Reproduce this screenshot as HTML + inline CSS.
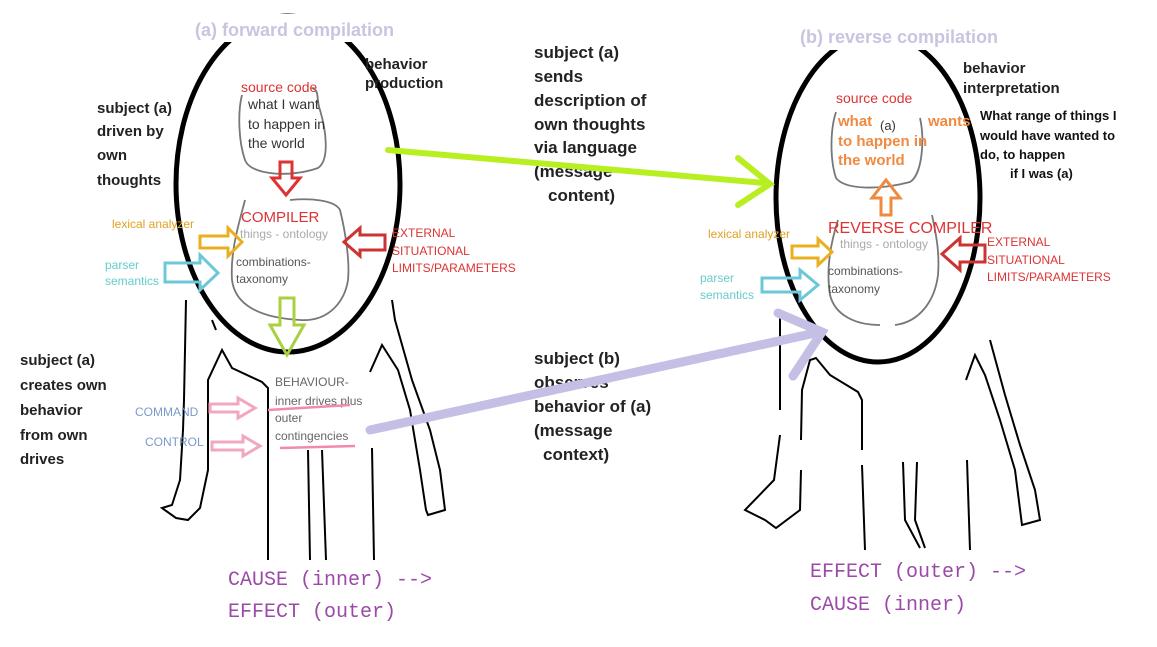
<!DOCTYPE html>
<html><head><meta charset="utf-8"><style>
html,body{margin:0;padding:0;background:#fff;}
svg{display:block;}
text{font-family:"Liberation Sans",Arial,sans-serif;}
text.mono{font-family:"Liberation Mono","DejaVu Sans Mono",monospace;}
</style></head><body>
<svg width="1157" height="647" viewBox="0 0 1157 647" xmlns="http://www.w3.org/2000/svg">
<!-- LEFT FIGURE body -->
<g fill="none" stroke="#000" stroke-width="2">
<path d="M186,300 L184,400 L183,430 L180,480 L172,505 L162,508 L176,518 L188,520 L200,508 L208,470 L208,380 L222,350 L232,368 L262,382 L268,388 L268,560"/>
<path d="M308,450 L310,560 M322,450 L326,560 M372,448 L374,560"/>
<path d="M370,372 L382,345 L398,370 L410,410 L420,470 L426,510 L428,515 L445,510 L440,470 L430,430 L412,380 L395,320 L392,300"/>
<path d="M216,330 L212,320" />
</g>
<!-- RIGHT FIGURE body -->
<g fill="none" stroke="#000" stroke-width="2">
<path d="M780,310 L780,410 M780,435 L774,480 L745,510 L765,520 L776,528 L800,510 L801,470 M801,440 L802,390 L810,360 L816,358 L830,375 L858,392 L862,400 L862,450 M862,465 L865,550"/>
<path d="M903,462 L905,520 L920,548 M917,462 L915,520 L925,548 M967,460 L970,550"/>
<path d="M966,380 L975,355 L985,375 L1000,420 L1015,470 L1022,525 L1040,520 L1035,490 L1020,445 L1005,395 L990,340"/>
</g>
<!-- Ellipses -->
<ellipse cx="288" cy="184" rx="112" ry="168" fill="none" stroke="#000" stroke-width="5"/>
<ellipse cx="878" cy="198" rx="102" ry="164" fill="none" stroke="#000" stroke-width="5"/>
<!-- white masks -->
<g fill="#fff">
<rect x="190" y="14" width="235" height="28"/>
<rect x="795" y="22" width="230" height="28"/>
<rect x="238" y="78" width="90" height="18"/>
<rect x="832" y="88" width="98" height="18"/>
</g>
<!-- gray scribbles left -->
<g fill="none" stroke="#777" stroke-width="1.8">
<path d="M242,95 C238,110 238,140 245,160 C250,175 290,178 318,168 C330,160 326,130 320,110 C316,100 320,90 312,88"/>
<path d="M245,200 C240,220 230,250 232,280 C235,305 260,318 300,320 C330,322 345,300 348,280 C350,260 345,230 340,210 C335,200 310,198 290,200"/>
</g>
<!-- gray scribbles right -->
<g fill="none" stroke="#777" stroke-width="1.8">
<path d="M836,112 C830,130 830,160 836,178 C845,190 880,190 910,182 C922,175 925,140 920,118"/>
<path d="M838,220 C830,245 826,270 830,295 C835,315 855,325 880,325 M895,325 C920,322 935,300 938,275 C940,250 935,230 932,215"/>
</g>
<!-- titles -->
<text x="195" y="36" font-size="18" font-weight="bold" fill="#c9c4e0">(a)  forward compilation</text>
<text x="800" y="43" font-size="18" font-weight="bold" fill="#c9c4e0">(b) reverse compilation</text>
<!-- left labels -->
<g font-size="15" font-weight="bold" fill="#222">
<text x="365" y="69">behavior</text><text x="365" y="88">production</text>
<text x="97" y="113">subject (a)</text><text x="97" y="136">driven by</text><text x="97" y="160">own</text><text x="97" y="185">thoughts</text>
<text x="20" y="365">subject (a)</text><text x="20" y="390">creates own</text><text x="20" y="415">behavior</text><text x="20" y="440">from own</text><text x="20" y="464">drives</text>
</g>
<text x="241" y="92" font-size="14" fill="#d33">source code</text>
<g font-size="14" fill="#333"><text x="248" y="109">what I want</text><text x="248" y="129">to happen in</text><text x="248" y="148">the world</text></g>
<text x="241" y="222" font-size="15" fill="#d33">COMPILER</text>
<text x="240" y="238" font-size="12" fill="#aaa">things - ontology</text>
<text x="236" y="266" font-size="12" fill="#555">combinations-</text><text x="236" y="283" font-size="12" fill="#555">taxonomy</text>
<text x="112" y="228" font-size="12" fill="#e0a020">lexical analyzer</text>
<text x="105" y="269" font-size="12" fill="#6cc">parser</text><text x="105" y="285" font-size="12" fill="#6cc">semantics</text>
<g font-size="12" fill="#d33"><text x="392" y="237">EXTERNAL</text><text x="392" y="255">SITUATIONAL</text><text x="392" y="272">LIMITS/PARAMETERS</text></g>
<g font-size="12" fill="#666"><text x="275" y="386">BEHAVIOUR-</text><text x="275" y="405">inner drives plus</text><text x="275" y="422">outer</text><text x="275" y="440">contingencies</text></g>
<text x="135" y="416" font-size="12" fill="#7a9ac8">COMMAND</text>
<text x="145" y="446" font-size="12" fill="#7a9ac8">CONTROL</text>
<text class="mono" x="228" y="585" font-size="20" fill="#9b4aa8">CAUSE (inner) --&gt;</text>
<text class="mono" x="228" y="617" font-size="20" fill="#9b4aa8">EFFECT (outer)</text>
<!-- middle -->
<g font-size="17" font-weight="bold" fill="#222">
<text x="534" y="58">subject (a)</text><text x="534" y="82">sends</text><text x="534" y="106">description of</text><text x="534" y="130">own thoughts</text><text x="534" y="153">via language</text><text x="534" y="177">(message</text><text x="548" y="201">content)</text>
<text x="534" y="364">subject (b)</text><text x="534" y="388">observes</text><text x="534" y="412">behavior of (a)</text><text x="534" y="436">(message</text><text x="543" y="460">context)</text>
</g>
<!-- right labels -->
<g font-size="15" font-weight="bold" fill="#222"><text x="963" y="73">behavior</text><text x="963" y="93">interpretation</text></g>
<g font-size="13" font-weight="bold" fill="#111"><text x="980" y="120">What range of things I</text><text x="980" y="140">would have wanted to</text><text x="980" y="159">do, to happen</text><text x="1010" y="178">if I was (a)</text></g>
<text x="836" y="103" font-size="14" fill="#d33">source code</text>
<g font-size="15" font-weight="bold" fill="#f08a40"><text x="838" y="126">what</text><text x="928" y="126">wants</text><text x="838" y="146">to happen in</text><text x="838" y="165">the world</text></g>
<text x="880" y="130" font-size="13" fill="#333">(a)</text>
<text x="828" y="233" font-size="16" fill="#d33">REVERSE COMPILER</text>
<text x="840" y="248" font-size="12" fill="#aaa">things - ontology</text>
<text x="828" y="275" font-size="12" fill="#555">combinations-</text><text x="828" y="293" font-size="12" fill="#555">taxonomy</text>
<text x="708" y="238" font-size="12" fill="#e0a020">lexical analyzer</text>
<text x="700" y="282" font-size="12" fill="#6cc">parser</text><text x="700" y="299" font-size="12" fill="#6cc">semantics</text>
<g font-size="12" fill="#d33"><text x="987" y="246">EXTERNAL</text><text x="987" y="264">SITUATIONAL</text><text x="987" y="281">LIMITS/PARAMETERS</text></g>
<text class="mono" x="810" y="577" font-size="20" fill="#9b4aa8">EFFECT (outer) --&gt;</text>
<text class="mono" x="810" y="610" font-size="20" fill="#9b4aa8">CAUSE (inner)</text>
<!-- hollow arrows -->
<g fill="none" stroke-width="3">
<path d="M280,162 L292,162 L292,178 L300,178 L286,195 L272,178 L280,178 Z" stroke="#d33"/>
<path d="M200,236 L228,236 L228,228 L242,242 L228,256 L228,248 L200,248 Z" stroke="#e8b020"/>
<path d="M165,263 L200,263 L200,255 L218,273 L200,290 L200,282 L165,282 Z" stroke="#6cc8d8"/>
<path d="M385,235 L360,235 L360,228 L344,242 L360,256 L360,250 L385,250 Z" stroke="#c33"/>
<path d="M280,298 L294,298 L294,325 L304,325 L287,355 L270,325 L280,325 Z" stroke="#a8d040"/>
<path d="M210,404 L238,404 L238,398 L255,408 L238,418 L238,412 L210,412 Z" stroke="#f0a8c0"/>
<path d="M212,442 L243,442 L243,436 L260,446 L243,456 L243,450 L212,450 Z" stroke="#f0a8c0"/>
<path d="M881,215 L891,215 L891,198 L900,198 L886,180 L872,198 L881,198 Z" stroke="#f08a40"/>
<path d="M792,246 L818,246 L818,239 L832,252 L818,265 L818,258 L792,258 Z" stroke="#e8b020"/>
<path d="M762,278 L800,278 L800,270 L818,285 L800,300 L800,292 L762,292 Z" stroke="#6cc8d8"/>
<path d="M985,245 L960,245 L960,238 L942,254 L960,270 L960,262 L985,262 Z" stroke="#c33"/>
</g>
<!-- pink underlines -->
<g stroke="#f08ab0" stroke-width="2.5" fill="none"><path d="M268,410 L350,405"/><path d="M280,448 L355,446"/></g>
<!-- green arrow -->
<g stroke="#b8ef20" stroke-width="6" fill="none" stroke-linecap="round"><path d="M388,150 L765,183"/><path d="M738,158 L770,184 L738,205"/></g>
<!-- purple arrow -->
<g stroke="#c4bfe4" stroke-width="9" fill="none" stroke-linecap="round"><path d="M370,430 L820,332"/><path d="M778,313 L822,332 L793,376"/></g>
</svg>
</body></html>
